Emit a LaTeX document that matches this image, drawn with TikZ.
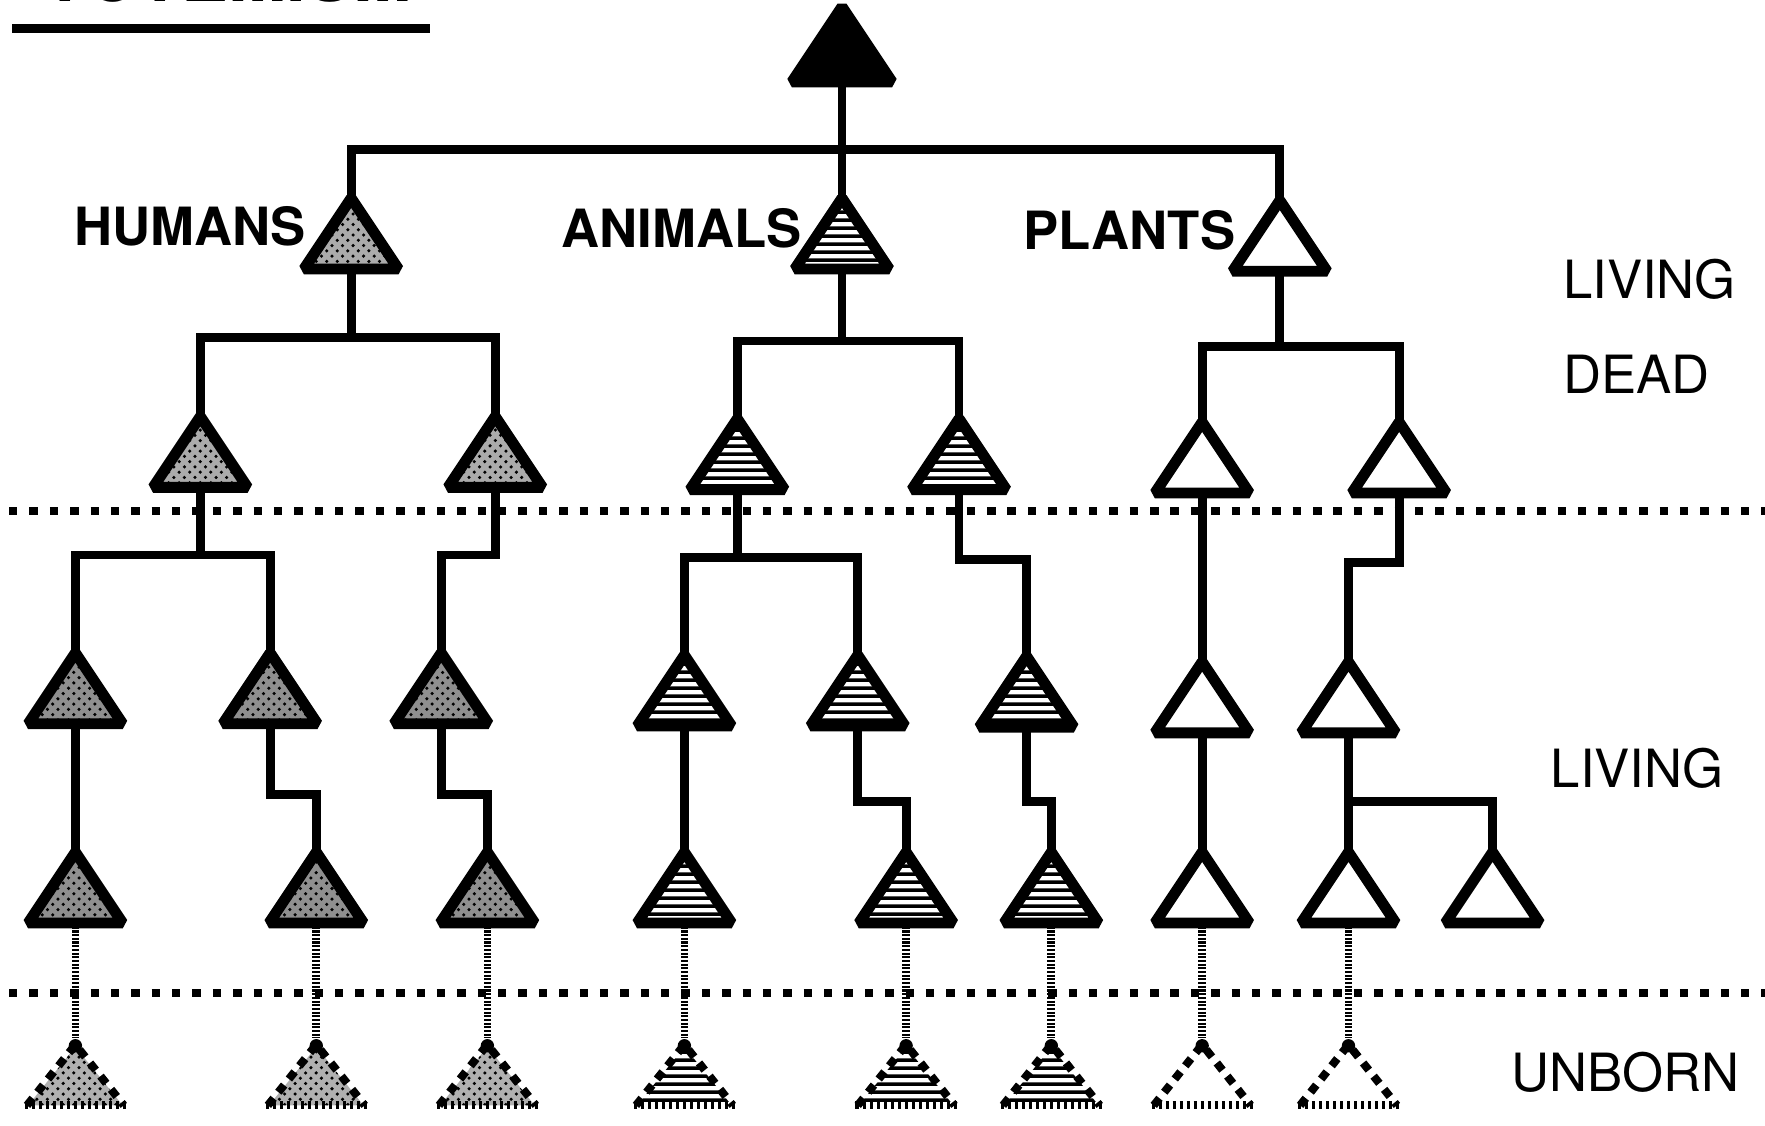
\documentclass[tikz,border=0pt]{standalone}
\usepackage{fontspec}
\setmainfont{TeX Gyre Heros}
\usetikzlibrary{patterns}
\pgfdeclarepatternformonly{stripes}{\pgfqpoint{0pt}{0pt}}{\pgfqpoint{60pt}{2.3pt}}{\pgfqpoint{60pt}{2.3pt}}{%
  \pgfpathrectangle{\pgfqpoint{0pt}{0pt}}{\pgfqpoint{60pt}{1.15pt}}\pgfusepath{fill}}
\tikzset{
  link/.style={line width=2.5pt, line join=miter},
  tribox/.style={draw, line width=3.1pt, line join=bevel},
  totem/.style={tribox, fill=black},
  humanlt/.style={tribox, preaction={fill=gray!66}, pattern=crosshatch dots},
  humandk/.style={tribox, preaction={fill=gray!88}, pattern=crosshatch dots},
  animal/.style={tribox, pattern=stripes},
  plant/.style={tribox, fill=white},
  humseed/.style={preaction={fill=gray!62}, pattern=crosshatch dots},
  aniseed/.style={pattern=stripes},
  plantseed/.style={},
  seededge/.style={line width=2.3pt, dash pattern=on 2.6pt off 2.2pt},
  seedbase/.style={line width=2.3pt, dash pattern=on 0.9pt off 1.1pt},
  cord/.style={line width=2.2pt, dash pattern=on 0.6pt off 0.45pt},
  sep/.style={line width=2.4pt, dash pattern=on 2.4pt off 3.4pt},
  lab/.style={font=\fontsize{15}{18}\selectfont\bfseries, inner sep=0, anchor=base east},
  side/.style={font=\fontsize{15}{18}\selectfont, inner sep=0, anchor=base west},
  pics/tri/.style={code={
    \path[#1] (0,0) -- (-42,63) -- (42,63) -- cycle;
    \coordinate (-top) at (0,0);
    \coordinate (-bot) at (0,63);
  }},
  pics/seed/.style={code={
    \path[#1] (0,8) -- (-42,60) -- (42,60) -- cycle;
    \draw[seededge] (-43,60) -- (0,6) -- (43,60);
    \draw[seedbase] (-45,60) -- (45,60);
    \fill (0,7) circle[radius=1.9pt];
    \coordinate (-top) at (0,0);
  }},
}
\begin{document}
\begin{tikzpicture}[x=0.011257cm, y=-0.011257cm]
  \useasboundingbox (0,0) rectangle (1568,1000);

  \node[font=\fontsize{20}{24}\selectfont\bfseries, inner sep=0, anchor=base west] (title) at (38,1) {TOTEMISM};
  \draw[line width=2.6pt] (11,25) -- (382,25);

  \draw[sep] (8,454) -- (1568,454);
  \draw[sep] (8,882) -- (1568,882);

  \pic[scale=1.06] (top) at (748,6) {tri=totem};

  \pic (h) at (312,176) {tri=humanlt};
  \pic (a) at (748,176) {tri=animal};
  \pic (p) at (1137,178) {tri=plant};

  \pic (h1) at (178,370) {tri=humanlt};
  \pic (h2) at (440,370) {tri=humanlt};
  \pic (a1) at (655,372) {tri=animal};
  \pic (a2) at (852,372) {tri=animal};
  \pic (p1) at (1068,375) {tri=plant};
  \pic (p2) at (1243,375) {tri=plant};

  \pic (h11) at (67,580) {tri=humandk};
  \pic (h12) at (240,580) {tri=humandk};
  \pic (h21) at (392,580) {tri=humandk};
  \pic (a11) at (608,582) {tri=animal};
  \pic (a12) at (762,582) {tri=animal};
  \pic (a21) at (912,583) {tri=animal};
  \pic (p11) at (1068,588) {tri=plant};
  \pic (p21) at (1198,588) {tri=plant};

  \pic (h111) at (67,757) {tri=humandk};
  \pic (h121) at (281,757) {tri=humandk};
  \pic (h211) at (433,757) {tri=humandk};
  \pic (a111) at (608,757) {tri=animal};
  \pic (a121) at (805,757) {tri=animal};
  \pic (a211) at (934,757) {tri=animal};
  \pic (p111) at (1068,757) {tri=plant};
  \pic (p211) at (1198,757) {tri=plant};
  \pic (p212) at (1326,757) {tri=plant};

  \pic (h111s) at (67,922) {seed=humseed};
  \pic (h121s) at (281,922) {seed=humseed};
  \pic (h211s) at (433,922) {seed=humseed};
  \pic (a111s) at (608,922) {seed=aniseed};
  \pic (a121s) at (805,922) {seed=aniseed};
  \pic (a211s) at (934,922) {seed=aniseed};
  \pic (p111s) at (1068,922) {seed=plantseed};
  \pic (p211s) at (1198,922) {seed=plantseed};

  \draw[link] (top-bot) -- (a-top);
  \draw[link] (h-top) -- ++(0,-43) -| (p-top);

  \draw[link] (h-bot) -- ++(0,62);
  \draw[link] (h1-top) -- ++(0,-70) -| (h2-top);
  \draw[link] (a-bot) -- ++(0,64);
  \draw[link] (a1-top) -- ++(0,-69) -| (a2-top);
  \draw[link] (p-bot) -- ++(0,67);
  \draw[link] (p1-top) -- ++(0,-67) -| (p2-top);

  \draw[link] (h1-bot) -- ++(0,60);
  \draw[link] (h11-top) -- ++(0,-87) -| (h12-top);
  \draw[link] (h2-bot) -- ++(0,60) -| (h21-top);
  \draw[link] (a1-bot) -- ++(0,60);
  \draw[link] (a11-top) -- ++(0,-87) -| (a12-top);
  \draw[link] (a2-bot) -- ++(0,62) -| (a21-top);
  \draw[link] (p1-bot) -- (p11-top);
  \draw[link] (p2-bot) -- ++(0,62) -| (p21-top);

  \draw[link] (h11-bot) -- (h111-top);
  \draw[link] (h12-bot) -- ++(0,63) -| (h121-top);
  \draw[link] (h21-bot) -- ++(0,63) -| (h211-top);
  \draw[link] (a11-bot) -- (a111-top);
  \draw[link] (a12-bot) -- ++(0,67) -| (a121-top);
  \draw[link] (a21-bot) -- ++(0,66) -| (a211-top);
  \draw[link] (p11-bot) -- (p111-top);
  \draw[link] (p21-bot) -- (p211-top);
  \draw[link] (p211-top) -- ++(0,-45) -| (p212-top);

  \draw[cord] (h111-bot) -- (h111s-top);
  \draw[cord] (h121-bot) -- (h121s-top);
  \draw[cord] (h211-bot) -- (h211s-top);
  \draw[cord] (a111-bot) -- (a111s-top);
  \draw[cord] (a121-bot) -- (a121s-top);
  \draw[cord] (a211-bot) -- (a211s-top);
  \draw[cord] (p111-bot) -- (p111s-top);
  \draw[cord] (p211-bot) -- (p211s-top);

  \node[lab] (hlab) at (272,218) {HUMANS};
  \node[lab] (alab) at (713,220) {ANIMALS};
  \node[lab] (plab) at (1098,222) {PLANTS};

  \node[side] (living) at (1388,265) {LIVING};
  \node[side] (dead) at (1388,350) {DEAD};
  \node[side] (living2) at (1377,700) {LIVING};
  \node[side] (unborn) at (1342,970) {UNBORN};
\end{tikzpicture}
\end{document}
